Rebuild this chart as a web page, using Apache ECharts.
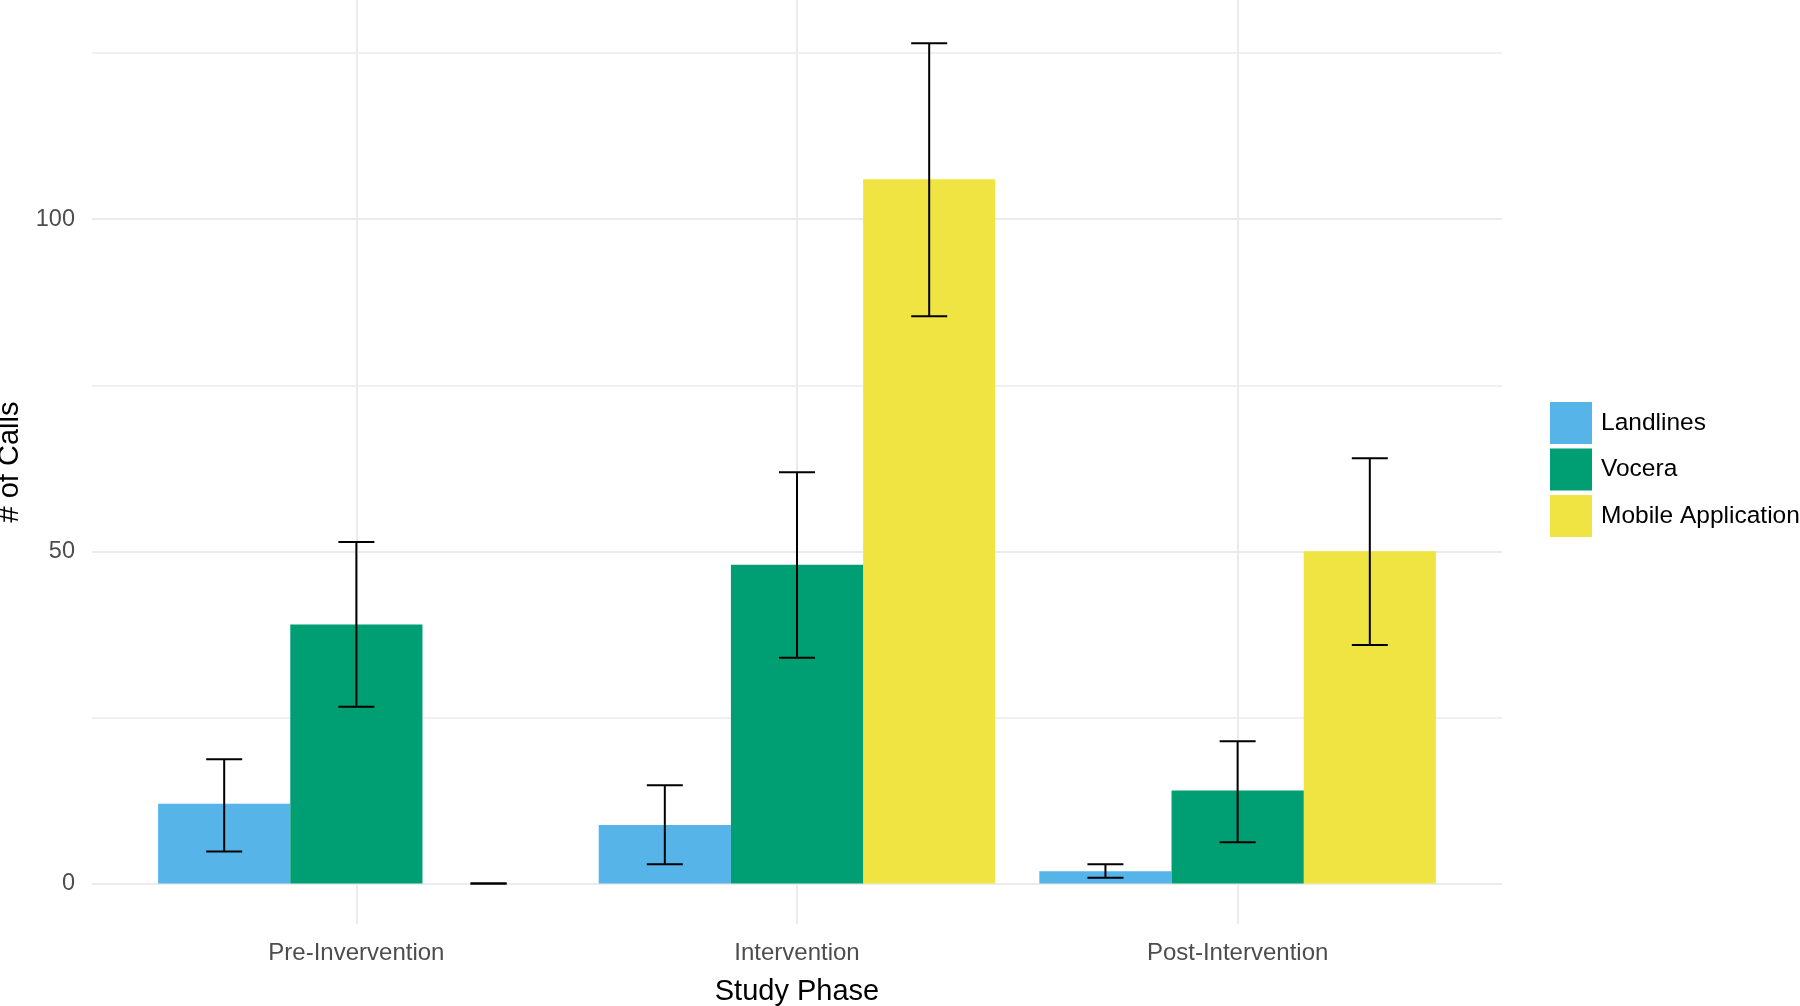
<!DOCTYPE html>
<html>
<head>
<meta charset="utf-8">
<script src="https://cdn.jsdelivr.net/npm/echarts@6/dist/echarts.min.js"></script>
<style>
html,body{margin:0;padding:0;background:#fff;}
#chart{width:1800px;height:1006px;}
</style>
</head>
<body>
<div id="chart"></div>
<script>
// ---- data ----
const categories = ['Pre-Invervention', 'Intervention', 'Post-Intervention'];
const seriesNames = ['Landlines', 'Vocera', 'Mobile Application'];
const landlines = [12, 8.8, 1.85];
const landlinesLow = [4.8, 2.9, 0.85];
const landlinesHigh = [18.7, 14.8, 2.9];
const vocera = [39, 48, 14];
const voceraLow = [26.6, 34.0, 6.2];
const voceraHigh = [51.4, 61.9, 21.4];
const mobile = [0, 106, 50];
const mobileLow = [0, 85.4, 35.9];
const mobileHigh = [0, 126.5, 64.0];
const yMajorTicks = [0, 50, 100];
const yMinorTicks = [25, 75, 125];

const colors = ['#56B4E9', '#009E73', '#F0E442'];
const values = [landlines, vocera, mobile];
const lows = [landlinesLow, voceraLow, mobileLow];
const highs = [landlinesHigh, voceraHigh, mobileHigh];
const dodge = 0.3; // bar width in category units (ggplot dodge 0.9 / 3)

function makeRender(si) {
  const offset = (si - 1) * dodge;
  return function (params, api) {
    const xc = api.value(0) + offset;
    const v = api.value(1), lo = api.value(2), hi = api.value(3);
    const tl = api.coord([xc - dodge / 2, v]);
    const br = api.coord([xc + dodge / 2, 0]);
    const c = api.coord([xc, 0]);
    const pLo = api.coord([xc, lo]);
    const pHi = api.coord([xc, hi]);
    const cap = 18;
    const lineStyle = { stroke: '#000', lineWidth: 2 };
    return {
      type: 'group',
      children: [
        { type: 'rect', shape: { x: tl[0], y: tl[1], width: br[0] - tl[0], height: br[1] - tl[1] },
          style: { fill: colors[si] } },
        { type: 'line', z2: 10, shape: { x1: c[0], y1: pLo[1], x2: c[0], y2: pHi[1] }, style: lineStyle },
        { type: 'line', z2: 10, shape: { x1: c[0] - cap, y1: pLo[1], x2: c[0] + cap, y2: pLo[1] }, style: lineStyle },
        { type: 'line', z2: 10, shape: { x1: c[0] - cap, y1: pHi[1], x2: c[0] + cap, y2: pHi[1] }, style: lineStyle }
      ]
    };
  };
}

const series = seriesNames.map((name, si) => ({
  name: name,
  type: 'custom',
  renderItem: makeRender(si),
  itemStyle: { color: colors[si] },
  encode: { x: 0, y: [1, 2, 3] },
  data: categories.map((c, i) => [i + 1, values[si][i], lows[si][i], highs[si][i]]),
  z: si === 2 ? 3 : 4
}));

const chart = echarts.init(document.getElementById('chart'), null, { renderer: 'canvas' });
chart.setOption({
  backgroundColor: '#fff',
  animation: false,
  color: colors,
  textStyle: { fontFamily: 'Liberation Sans, Arial, sans-serif' },
  grid: { left: 92, right: 298, top: 0, height: 924, containLabel: false, outerBoundsMode: 'none' },
  legend: {
    orient: 'vertical',
    left: 1550,
    top: 402,
    padding: 0,
    icon: 'rect',
    itemWidth: 42,
    itemHeight: 42,
    itemGap: 4.5,
    data: seriesNames,
    textStyle: { fontSize: 24.5, color: '#000', padding: [0, 0, 0, 4], fontFamily: 'Liberation Sans, Arial, sans-serif' }
  },
  xAxis: {
    type: 'value',
    min: 0.4,
    max: 3.6,
    name: 'Study Phase',
    nameLocation: 'middle',
    nameGap: 53,
    nameTextStyle: { fontSize: 29, color: '#000' },
    axisLine: { show: false },
    axisTick: { show: false, customValues: [1, 2, 3] },
    axisLabel: {
      customValues: [1, 2, 3],
      formatter: v => categories[Math.round(v) - 1] || '',
      fontSize: 24,
      color: '#4D4D4D',
      margin: 17
    },
    splitLine: { show: true, lineStyle: { color: '#EBEBEB', width: 2 } }
  },
  yAxis: [
    {
      type: 'value',
      min: -6.1,
      max: 133.0,
      name: '# of Calls',
      nameLocation: 'middle',
      nameGap: 65,
      nameRotate: 90,
      nameTextStyle: { fontSize: 29, color: '#000' },
      axisLine: { show: false },
      axisTick: { show: false, customValues: yMajorTicks },
      axisLabel: { customValues: yMajorTicks, fontSize: 23.5, color: '#4D4D4D', margin: 17, padding: [6, 0, 0, 0] },
      splitLine: { show: true, lineStyle: { color: '#EBEBEB', width: 2 } }
    },
    {
      type: 'value',
      min: -6.1,
      max: 133.0,
      position: 'right',
      axisLine: { show: false },
      axisTick: { show: false, customValues: yMinorTicks },
      axisLabel: { show: false, customValues: yMinorTicks },
      splitLine: { show: true, lineStyle: { color: '#EBEBEB', width: 1.5 } }
    }
  ],
  series: series
});
</script>
</body>
</html>
